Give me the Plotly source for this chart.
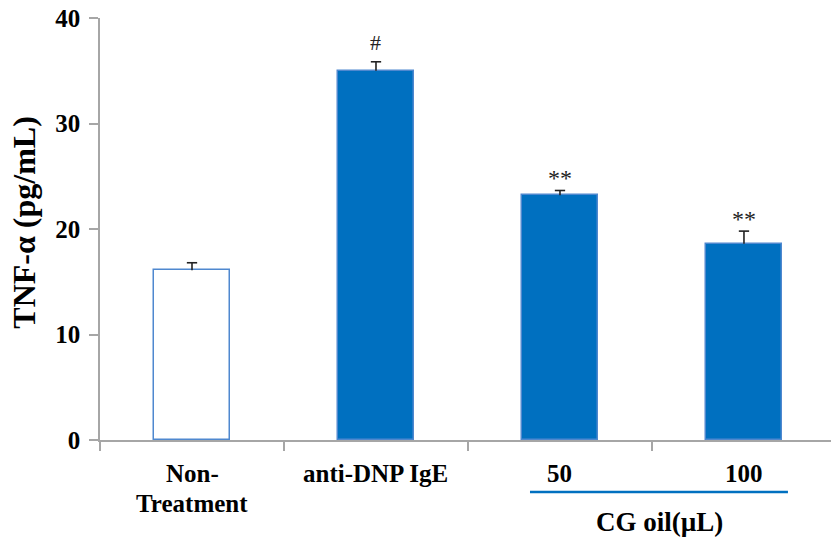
import plotly.graph_objects as go

categories = ["Non-Treatment", "anti-DNP IgE", "50", "100"]
values = [16.1, 35.0, 23.2, 18.6]
errors = [0.7, 0.85, 0.45, 1.2]
marks = ["", "#", "**", "**"]
fill_colors = ["white", "#0070C0", "#0070C0", "#0070C0"]
y_ticks = [0, 10, 20, 30, 40]

FONT = "Times New Roman, Liberation Serif, serif"
xpos = list(range(len(categories)))
CAP = 0.028  # half cap width in category units

fig = go.Figure()
fig.add_trace(go.Bar(
    x=xpos, y=values, width=0.41,
    marker=dict(color=fill_colors, line=dict(color="#4F88CF", width=1.5)),
    showlegend=False, hoverinfo="skip",
))

# one-sided (upper) error bars with caps
ex, ey = [], []
for i, (v, e) in enumerate(zip(values, errors)):
    ex += [i, i, None, i - CAP, i + CAP, None]
    ey += [v, v + e, None, v + e, v + e, None]
fig.add_trace(go.Scatter(x=ex, y=ey, mode="lines",
                         line=dict(color="#222222", width=1.6),
                         showlegend=False, hoverinfo="skip"))

# significance marks above error bars
for i, (v, e, m) in enumerate(zip(values, errors, marks)):
    if m:
        fig.add_annotation(x=i, y=v + e, text=m, showarrow=False,
                           yanchor="bottom", yshift=5 if m == "#" else -3,
                           font=dict(family=FONT, size=22 if m == "#" else 24,
                                     color="#222222"))

# category labels
labels = ["<b>Non-</b>", "<b>anti-DNP IgE</b>", "<b>50</b>", "<b>100</b>"]
for i, lab in enumerate(labels):
    fig.add_annotation(x=i, xref="x", y=0, yref="paper", yshift=-33,
                       text=lab, showarrow=False, yanchor="middle",
                       font=dict(family=FONT, size=25, color="black"))
fig.add_annotation(x=0, xref="x", y=0, yref="paper", yshift=-63,
                   text="<b>Treatment</b>", showarrow=False, yanchor="middle",
                   font=dict(family=FONT, size=25, color="black"))
fig.add_annotation(x=2.54, xref="x", y=0, yref="paper", yshift=-82,
                   text="<b>CG oil(µL)</b>", showarrow=False, yanchor="middle",
                   font=dict(family=FONT, size=27, color="black"))
fig.add_shape(type="line", xref="x", yref="paper", x0=1.837, x1=3.239,
              y0=-0.1232, y1=-0.1232, line=dict(color="#0070C0", width=2.5))

# y-axis title
fig.add_annotation(xref="paper", x=0, xshift=-76, yref="paper", y=0.515,
                   text="<b>TNF-α (pg/mL)</b>", textangle=-90, showarrow=False,
                   xanchor="center", yanchor="middle",
                   font=dict(family=FONT, size=32, color="black"))

fig.update_layout(
    width=831, height=539,
    margin=dict(l=100, r=0, t=18, b=99),
    plot_bgcolor="white", paper_bgcolor="white",
    bargap=0,
    xaxis=dict(range=[-0.5, 3.473], tickmode="array",
               tickvals=[-0.5, 0.5, 1.5, 2.5, 3.5], showticklabels=False,
               ticks="outside", ticklen=9, tickcolor="#A6A6A6", tickwidth=1.5,
               showline=True, linecolor="#A6A6A6", linewidth=1.5,
               showgrid=False, zeroline=False, fixedrange=True),
    yaxis=dict(range=[0, 40], tickmode="array", tickvals=y_ticks,
               ticks="outside", ticklen=9, tickcolor="#A6A6A6", tickwidth=1.5,
               showline=True, linecolor="#A6A6A6", linewidth=1.5,
               showgrid=False, zeroline=False, ticklabelstandoff=4,
               tickfont=dict(family=FONT, size=25, color="black", weight="bold")),
)

fig.write_html("out.html")
